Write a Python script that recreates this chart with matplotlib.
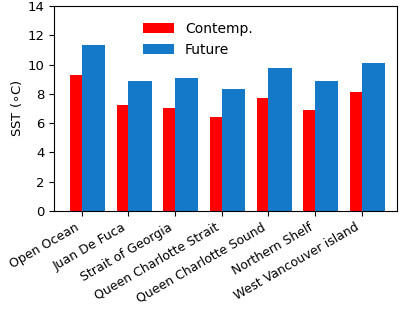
import matplotlib
matplotlib.use("Agg")
import matplotlib.pyplot as plt
import numpy as np

regiones = ["Open Ocean", "Juan De Fuca", "Strait of Georgia", "Queen Charlotte Strait",
            "Queen Charlotte Sound", "Northern Shelf", "West Vancouver island"]
contemp = [9.3, 7.25, 7.05, 6.4, 7.75, 6.9, 8.1]
futuro = [11.35, 8.85, 9.05, 8.3, 9.75, 8.9, 10.1]

x = np.arange(len(regiones))

fig = plt.figure(figsize=(4, 3.15), dpi=100)
ax = fig.add_axes([0.135, 0.33, 0.8575, 0.651])

ax.bar(x, contemp, 0.5, color="#ff0000", label="Contemp.")
ax.bar(x + 0.25, futuro, 0.5, color="#1579c9", label="Future")

ax.set_xlim(-0.59, 6.76)
ax.set_ylim(0, 14)
ax.set_ylabel(r"SST ($\circ$C)", fontsize=9.5, labelpad=2)
ax.set_xticks(x)
ax.set_xticklabels(regiones, rotation=30, ha="right", fontsize=9)
ax.tick_params(axis="y", labelsize=9.5)
ax.legend(loc="upper center", bbox_to_anchor=(0.42, 0.985), frameon=False,
          fontsize=10, handlelength=2.2)

plt.savefig("out.png", format="png")
